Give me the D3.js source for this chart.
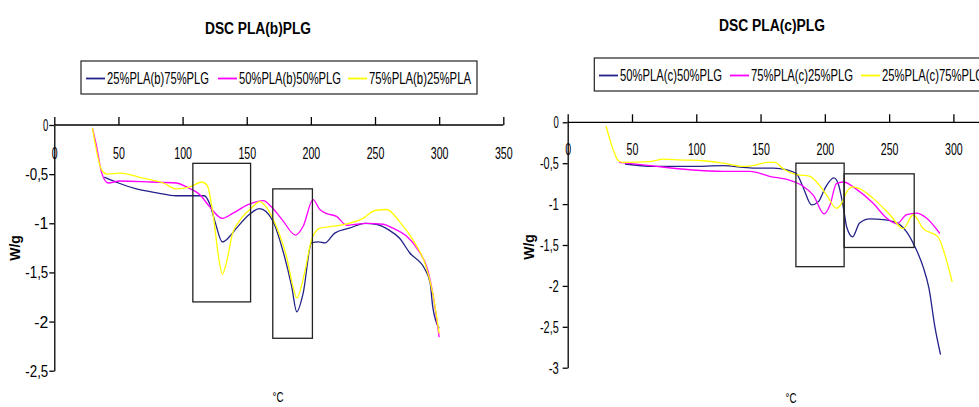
<!DOCTYPE html>
<html><head><meta charset="utf-8">
<script src="https://cdn.jsdelivr.net/npm/d3@7"></script>
<style>
body{margin:0;background:#fff;}
svg{display:block;}
text{font-family:"Liberation Sans",Arial,sans-serif;fill:#000;}
</style></head><body>
<svg id="c" width="979" height="407"></svg>
<script>
// ---------- shared ----------
const xTicksB = [0, 50, 100, 150, 200, 250, 300, 350];
const xTicksC = [0, 50, 100, 150, 200, 250, 300];
const yTicksB = [0, -0.5, -1, -1.5, -2, -2.5];
const yTicksC = [0, -0.5, -1, -1.5, -2, -2.5, -3];
const namesB = ["25%PLA(b)75%PLG", "50%PLA(b)50%PLG", "75%PLA(b)25%PLA"];
const namesC = ["50%PLA(c)50%PLG", "75%PLA(c)25%PLG", "25%PLA(c)75%PLG"];
const colors = ["#22228a", "#ff00ff", "#ffff00"];

// ---------- data: chart b (temperature °C, W/g) ----------
const b25 = [[39,-0.53],[50,-0.59],[64,-0.65],[80,-0.69],[95,-0.72],[117,-0.72],[121,-0.80],[125,-0.97],[131,-1.19],[137,-1.13],[142,-1.05],[152,-0.91],[160,-0.85],[165,-0.88],[170.5,-0.98],[178,-1.27],[185,-1.64],[189,-1.90],[194,-1.71],[200.5,-1.20],[206,-1.19],[211,-1.20],[218.6,-1.10],[230,-1.05],[242,-1.00],[251,-1.01],[261,-1.07],[269,-1.15],[277,-1.30],[289,-1.47],[293,-1.61],[295,-1.85],[300,-2.07]];
const b50 = [[29.7,-0.03],[33,-0.22],[37,-0.49],[42,-0.59],[51,-0.57],[75,-0.58],[95,-0.59],[103,-0.63],[113.5,-0.71],[121,-0.83],[131,-0.95],[139,-0.90],[151,-0.81],[163,-0.77],[169,-0.83],[178,-0.97],[188,-1.12],[194,-1.03],[201.7,-0.76],[207,-0.86],[212,-0.90],[220,-0.93],[228,-1.02],[235.5,-1.01],[243,-1.00],[256.5,-1.01],[264,-1.05],[274.5,-1.13],[283.5,-1.27],[291,-1.47],[295,-1.71],[300,-2.16]];
const b75 = [[29.7,-0.03],[37,-0.46],[41,-0.50],[51,-0.49],[69,-0.54],[85,-0.59],[95,-0.65],[105.7,-0.63],[115,-0.58],[119,-0.61],[124,-0.93],[128,-1.34],[131,-1.52],[134,-1.41],[139,-1.10],[144.6,-0.97],[155,-0.83],[160,-0.78],[165,-0.83],[173,-1.03],[181,-1.34],[186,-1.64],[189,-1.76],[195,-1.51],[200.5,-1.17],[207,-1.05],[217,-1.03],[230,-1.00],[240.7,-0.95],[250,-0.87],[259,-0.86],[269,-0.98],[281,-1.20],[289,-1.41],[295,-1.71],[300,-2.12]];

// ---------- data: chart c ----------
const c50 = [[44.6,-0.51],[66.6,-0.54],[95,-0.54],[121,-0.53],[136.5,-0.55],[147,-0.56],[160,-0.56],[170,-0.58],[178,-0.63],[183,-0.79],[189.7,-1.01],[195,-0.97],[200,-0.81],[207,-0.68],[210.4,-0.75],[214.3,-1.03],[217,-1.28],[221.6,-1.40],[227,-1.23],[235,-1.18],[245.5,-1.19],[256,-1.23],[263.6,-1.34],[270,-1.52],[276.5,-1.77],[281,-2.03],[285.6,-2.50],[290,-2.84]];
const c75 = [[40,-0.49],[64,-0.53],[95,-0.58],[121,-0.60],[141.8,-0.60],[157,-0.66],[173,-0.71],[183,-0.78],[191,-0.89],[199.5,-1.12],[204,-1.01],[209,-0.75],[214.3,-0.73],[224.7,-0.82],[237.6,-0.99],[248,-1.17],[256,-1.24],[263.6,-1.13],[271.4,-1.11],[279,-1.17],[289.5,-1.36]];
const c25 = [[29.8,-0.045],[35.5,-0.34],[39.4,-0.47],[43,-0.49],[64,-0.48],[74.4,-0.45],[87,-0.46],[105.5,-0.47],[121,-0.50],[136.5,-0.54],[147,-0.52],[155,-0.49],[161,-0.49],[167.7,-0.57],[178,-0.64],[188.4,-0.66],[193.6,-0.73],[201.4,-0.89],[209,-1.05],[213,-0.99],[217,-0.85],[222,-0.79],[227,-0.81],[237.6,-0.93],[250.6,-1.13],[261,-1.30],[268.7,-1.13],[276.5,-1.30],[288,-1.40],[293,-1.60],[299,-1.95]];

// highlight boxes [x0, x1, yTop, yBottom] in data units
const boxesB = [[108,153,-0.39,-1.80],[170.3,201.2,-0.65,-2.17]];
const boxesC = [[177.5,215,-0.5,-1.765],[215,269.5,-0.63,-1.53]];

const svg = d3.select("#c");

// narrow rendering of labels: target width from per-character widths
function squeeze(sel, cw){
  sel.each(function(){
    const t = d3.select(this), s = t.text();
    let w = 0;
    for (const ch of s) w += (ch === "-") ? cw.m : (ch === ",") ? cw.c : cw.d;
    t.attr("textLength", w).attr("lengthAdjust","spacingAndGlyphs");
  });
}

function chart(cfg){
  const g = svg.append("g");
  const x = d3.scaleLinear().domain([0,350]).range(cfg.xr);
  const y = d3.scaleLinear().domain([0,cfg.ymin]).range(cfg.yr);

  // title
  g.append("text").attr("x",cfg.titleX).attr("y",cfg.titleY).attr("text-anchor","middle")
   .style("font-weight","bold").style("font-size","16px")
   .attr("textLength",106).attr("lengthAdjust","spacingAndGlyphs").text(cfg.title);

  // legend
  const L = cfg.legend;
  g.append("rect").attr("x",L.x).attr("y",L.y).attr("width",L.w).attr("height",L.h)
   .attr("fill","none").attr("stroke","#222").attr("stroke-width",1.2);
  cfg.names.forEach((n,i)=>{
    const lx = L.items[i];
    g.append("line").attr("x1",lx).attr("x2",lx+19).attr("y1",L.y+L.h/2+1).attr("y2",L.y+L.h/2+1)
     .attr("stroke",colors[i]).attr("stroke-width",1.8);
    g.append("text").attr("x",lx+21).attr("y",L.y+L.h/2+6.5)
     .style("font-size","16px").attr("textLength",102).attr("lengthAdjust","spacingAndGlyphs").text(n);
  });

  // axes
  const xa = g.append("g").attr("transform",`translate(0,${y(0)})`)
    .call(d3.axisBottom(x).tickValues(cfg.xTicks).tickSizeInner(-8).tickSizeOuter(0).tickPadding(cfg.xPad).tickFormat(d3.format("d")));
  xa.selectAll("text").style("font-size","17px").attr("font-family",null);
  squeeze(xa.selectAll("text"), {d:5.9, m:5, c:3});
  // extend the x axis line past the last labelled tick
  xa.select(".domain").attr("d",`M${x(0)},0H${x(350)}`);

  const ya = g.append("g").attr("transform",`translate(${x(0)},0)`)
    .call(d3.axisLeft(y).tickValues(cfg.yTicks).tickSizeInner(5).tickSizeOuter(0).tickPadding(cfg.yPad)
      .tickFormat(d=> String(d).replace(".",",")));
  ya.selectAll("text").style("font-size","17px").attr("font-family",null);
  squeeze(ya.selectAll("text"), cfg.ycw);
  g.selectAll("path.domain, .tick line").attr("stroke","#000").attr("stroke-width",1.3);

  // axis titles
  g.append("text").attr("transform",`translate(${cfg.ylabX},${cfg.ylabY}) rotate(-90)`).attr("text-anchor","middle")
   .style("font-weight","bold").style("font-size","14px").text("W/g");
  g.append("text").attr("x",cfg.xlabX).attr("y",cfg.xlabY).attr("text-anchor","middle")
   .style("font-size","14px").attr("textLength",11).attr("lengthAdjust","spacingAndGlyphs").text("°C");

  // series
  const line = d3.line().x(d=>x(d[0])).y(d=>y(d[1])).curve(d3.curveMonotoneX);
  cfg.series.forEach((s,i)=>{
    g.append("path").datum(s).attr("d",line).attr("fill","none")
     .attr("stroke",colors[i]).attr("stroke-width",1.3);
  });

  // boxes
  cfg.boxes.forEach(b=>{
    g.append("rect").attr("x",x(b[0])).attr("y",y(b[2])).attr("width",x(b[1])-x(b[0])).attr("height",y(b[3])-y(b[2]))
     .attr("fill","none").attr("stroke","#222").attr("stroke-width",1.3);
  });
}

chart({
  title:"DSC PLA(b)PLG", titleX:258, titleY:34,
  xr:[54.3,503.3], yr:[125,370.7], ymin:-2.5, xTicks:xTicksB, yTicks:yTicksB, xPad:22, yPad:1,
  ycw:{d:5.3, m:8.7, c:3.7},
  names:namesB, series:[b25,b50,b75], boxes:boxesB,
  legend:{x:81,y:61,w:396,h:33,items:[86,218,348]},
  ylabX:20, ylabY:248, xlabX:278, xlabY:402
});
chart({
  title:"DSC PLA(c)PLG", titleX:772, titleY:31,
  xr:[567.7,1017.7], yr:[122.3,367.7], ymin:-3, xTicks:xTicksC, yTicks:yTicksC, xPad:21, yPad:4,
  ycw:{d:5.3, m:4.7, c:3.4},
  names:namesC, series:[c50,c75,c25], boxes:boxesC,
  legend:{x:594.3,y:58,w:430,h:33,items:[599,730,861]},
  ylabX:534, ylabY:247, xlabX:791, xlabY:403
});
</script>
</body></html>
